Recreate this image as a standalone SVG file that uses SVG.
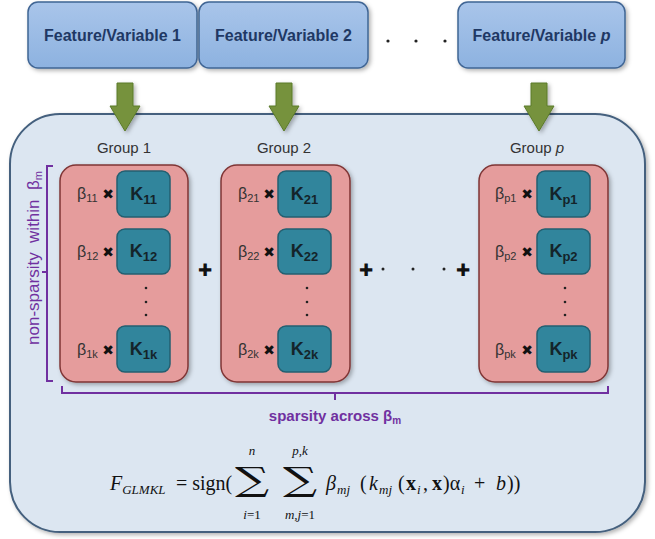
<svg xmlns="http://www.w3.org/2000/svg" width="655" height="539" viewBox="0 0 655 539">
<defs>
<linearGradient id="gTop" x1="0" y1="0" x2="0" y2="1"><stop offset="0" stop-color="#a9c5ea"/><stop offset="1" stop-color="#8db2e0"/></linearGradient>
<filter id="sh" x="-10%" y="-10%" width="130%" height="130%"><feDropShadow dx="2" dy="2" stdDeviation="2" flood-color="#000" flood-opacity="0.3"/></filter>
<style>
.top{fill:url(#gTop);stroke:#3f6594;stroke-width:1.5;filter:url(#sh)}
.ttxt{font-family:"Liberation Sans",Arial,sans-serif;font-weight:bold;font-size:16px;fill:#1f3864;text-anchor:middle}
.arrow{fill:#76923c;stroke:#5b7a2b;stroke-width:1;filter:url(#sh)}
.cont{fill:#dce6f1;stroke:#44607e;stroke-width:2;filter:url(#sh)}
.glab{font-family:"Liberation Sans",Arial,sans-serif;font-size:15px;fill:#333;text-anchor:middle}
.pink{fill:#e59c9c;stroke:#7f3535;stroke-width:1.5;filter:url(#sh)}
.teal{fill:#31859c;stroke:#235f70;stroke-width:1.5}
.ktxt{font-family:"Liberation Sans",Arial,sans-serif;font-weight:bold;font-size:18px;fill:#14242a;text-anchor:middle}
.btxt{font-family:"Liberation Sans",Arial,sans-serif;font-size:16px;fill:#333}
.x{font-family:"DejaVu Sans",sans-serif;font-size:14px;fill:#111;text-anchor:middle}
.plus{font-family:"DejaVu Sans",sans-serif;font-size:17px;fill:#111;text-anchor:middle}
.dot{fill:#222}
.br{fill:none;stroke:#7030a0;stroke-width:2}
.ptxt{font-family:"Liberation Sans",Arial,sans-serif;font-size:15px;fill:#7030a0;text-anchor:middle}
.vtxt{font-family:"Liberation Sans",Arial,sans-serif;font-size:17px;fill:#7030a0;text-anchor:middle}
.math{font-family:"Liberation Serif","DejaVu Serif",serif;fill:#111}
.sum{font-family:"DejaVu Serif",serif;font-size:33px;text-anchor:middle}
.sub{font-size:13px;font-style:italic}
.it{font-style:italic}
</style>
</defs>
<rect width="655" height="539" fill="#ffffff"/>

<g id="feature1"><rect class="top" x="28" y="2" width="169" height="66" rx="10"/><text class="ttxt" x="112.5" y="41">Feature/Variable 1</text></g>
<g id="feature2"><rect class="top" x="199" y="2" width="169" height="66" rx="10"/><text class="ttxt" x="283.5" y="41">Feature/Variable 2</text></g>
<g id="featurep"><rect class="top" x="458" y="2" width="167" height="66" rx="10"/><text class="ttxt" x="541.5" y="41">Feature/Variable <tspan font-style="italic">p</tspan></text></g>
<g id="topdots"><circle class="dot" cx="388" cy="41" r="1.6"/><circle class="dot" cx="416" cy="41" r="1.6"/><circle class="dot" cx="445" cy="41" r="1.6"/></g>

<g id="container"><rect class="cont" x="10" y="114" width="635" height="418" rx="50"/></g>

<g id="connectors">
<path class="arrow" d="M117,83 H133 V106 H140 L125,131 L110,106 H117 Z"/>
<path class="arrow" d="M276,83 H292 V106 H299 L284,131 L269,106 H276 Z"/>
<path class="arrow" d="M531,83 H547 V106 H554 L539,131 L524,106 H531 Z"/>
</g>

<g id="group1">
<text class="glab" x="124" y="153">Group 1</text>
<rect class="pink" x="60" y="165" width="128" height="217" rx="16"/>
<rect class="teal" x="117" y="171" width="53" height="46" rx="8"/>
<rect class="teal" x="117" y="229" width="53" height="45" rx="8"/>
<rect class="teal" x="117" y="326" width="53" height="46" rx="8"/>
<text class="ktxt" x="143.5" y="200">K<tspan font-size="13" dy="4">11</tspan></text>
<text class="ktxt" x="143.5" y="257">K<tspan font-size="13" dy="4">12</tspan></text>
<text class="ktxt" x="143.5" y="355">K<tspan font-size="13" dy="4">1k</tspan></text>
<text class="btxt" x="77" y="199">β<tspan font-size="11" dy="3">11</tspan></text>
<text class="btxt" x="77" y="257">β<tspan font-size="11" dy="3">12</tspan></text>
<text class="btxt" x="77" y="355">β<tspan font-size="11" dy="3">1k</tspan></text>
<text class="x" x="108" y="199">✖</text><text class="x" x="108" y="257">✖</text><text class="x" x="108" y="355">✖</text>
<circle class="dot" cx="146" cy="288" r="1.3"/><circle class="dot" cx="146" cy="302" r="1.3"/><circle class="dot" cx="146" cy="315" r="1.3"/>
</g>

<g id="group2">
<text class="glab" x="284" y="153">Group 2</text>
<rect class="pink" x="221" y="165" width="129" height="217" rx="16"/>
<rect class="teal" x="278" y="171" width="53" height="46" rx="8"/>
<rect class="teal" x="278" y="229" width="53" height="45" rx="8"/>
<rect class="teal" x="278" y="326" width="53" height="46" rx="8"/>
<text class="ktxt" x="304.5" y="200">K<tspan font-size="13" dy="4">21</tspan></text>
<text class="ktxt" x="304.5" y="257">K<tspan font-size="13" dy="4">22</tspan></text>
<text class="ktxt" x="304.5" y="355">K<tspan font-size="13" dy="4">2k</tspan></text>
<text class="btxt" x="238" y="199">β<tspan font-size="11" dy="3">21</tspan></text>
<text class="btxt" x="238" y="257">β<tspan font-size="11" dy="3">22</tspan></text>
<text class="btxt" x="238" y="355">β<tspan font-size="11" dy="3">2k</tspan></text>
<text class="x" x="269" y="199">✖</text><text class="x" x="269" y="257">✖</text><text class="x" x="269" y="355">✖</text>
<circle class="dot" cx="307" cy="288" r="1.3"/><circle class="dot" cx="307" cy="302" r="1.3"/><circle class="dot" cx="307" cy="315" r="1.3"/>
</g>

<g id="groupp">
<text class="glab" x="537" y="153">Group <tspan font-style="italic">p</tspan></text>
<rect class="pink" x="479" y="165" width="129" height="217" rx="16"/>
<rect class="teal" x="537" y="171" width="53" height="46" rx="8"/>
<rect class="teal" x="537" y="229" width="53" height="45" rx="8"/>
<rect class="teal" x="537" y="326" width="53" height="46" rx="8"/>
<text class="ktxt" x="563.5" y="200">K<tspan font-size="13" dy="4">p1</tspan></text>
<text class="ktxt" x="563.5" y="257">K<tspan font-size="13" dy="4">p2</tspan></text>
<text class="ktxt" x="563.5" y="355">K<tspan font-size="13" dy="4">pk</tspan></text>
<text class="btxt" x="495" y="199">β<tspan font-size="11" dy="3">p1</tspan></text>
<text class="btxt" x="495" y="257">β<tspan font-size="11" dy="3">p2</tspan></text>
<text class="btxt" x="495" y="355">β<tspan font-size="11" dy="3">pk</tspan></text>
<text class="x" x="527" y="199">✖</text><text class="x" x="527" y="257">✖</text><text class="x" x="527" y="355">✖</text>
<circle class="dot" cx="565" cy="288" r="1.3"/><circle class="dot" cx="565" cy="302" r="1.3"/><circle class="dot" cx="565" cy="315" r="1.3"/>
</g>

<g id="operators">
<text class="plus" x="205" y="276">✚</text>
<text class="plus" x="366" y="276">✚</text>
<text class="plus" x="463" y="276">✚</text>
<circle class="dot" cx="383" cy="269" r="1.5"/><circle class="dot" cx="413" cy="269" r="1.5"/><circle class="dot" cx="444" cy="269" r="1.5"/>
</g>

<g id="brackets">
<path class="br" d="M53,166 H47 V381 H53 M47,272 H42"/>
<text class="vtxt" transform="translate(39,258) rotate(-90)" xml:space="preserve">non-sparsity  within  β<tspan font-size="11" dy="3">m</tspan></text>
<path class="br" d="M62,386 V393 H608 V386 M335,393 V400"/>
<text class="ptxt" x="335" y="421" font-weight="bold">sparsity across β<tspan font-size="10" dy="3">m</tspan></text>
</g>

<g id="formula" class="math">
<text x="110" y="490" font-size="20" font-style="italic">F<tspan font-size="13" dy="4">GLMKL</tspan></text>
<text x="176" y="490" font-size="20">= sign(</text>
<text class="sum" transform="translate(252,491) scale(1.45,1)">∑</text>
<text x="252" y="455" font-size="13" font-style="italic" text-anchor="middle">n</text>
<text x="252" y="519" font-size="13" text-anchor="middle"><tspan font-style="italic">i</tspan>=1</text>
<text class="sum" transform="translate(300,491) scale(1.45,1)">∑</text>
<text x="300" y="455" font-size="13" font-style="italic" text-anchor="middle">p,k</text>
<text x="300" y="519" font-size="13" text-anchor="middle"><tspan font-style="italic">m,j</tspan>=1</text>
<text font-size="20"><tspan class="it" x="326" y="490">β</tspan><tspan class="sub" x="337" y="494">mj</tspan><tspan x="360" y="490">(</tspan><tspan class="it" x="369" y="490">k</tspan><tspan class="sub" x="379" y="494">mj</tspan><tspan x="398" y="490">(</tspan><tspan font-weight="bold" x="406" y="490">x</tspan><tspan class="sub" x="417" y="494">i</tspan><tspan x="423" y="490">,</tspan><tspan font-weight="bold" x="432" y="490">x</tspan><tspan x="443" y="490">)α</tspan><tspan class="sub" x="461" y="494">i</tspan><tspan x="474" y="490">+</tspan><tspan class="it" x="496" y="490">b</tspan><tspan x="507" y="490">))</tspan></text>
</g>
</svg>
